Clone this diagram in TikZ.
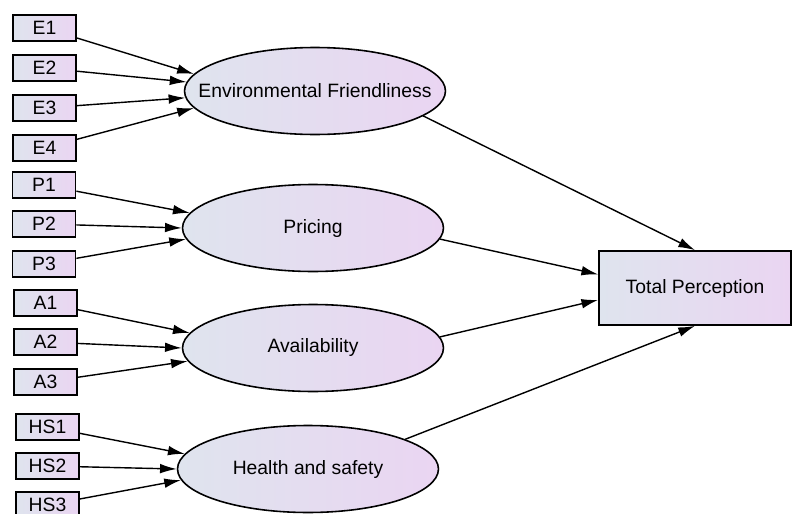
\documentclass[tikz,border=0pt]{standalone}
\usepackage{fontspec}
\setmainfont{Liberation Sans}
\usetikzlibrary{shapes.geometric,arrows.meta}

\definecolor{shadeblue}{HTML}{DFE4EE}
\definecolor{shadepink}{HTML}{EAD5F2}

\begin{document}
\begin{tikzpicture}[
  x=0.02cm, y=-0.02cm,
  font=\fontsize{11}{13}\selectfont,
  indicator/.style={rectangle, draw, line width=1pt, left color=shadeblue, right color=shadepink, minimum width=1.26cm, minimum height=0.52cm, inner sep=0pt},
  latent/.style={ellipse, draw, line width=0.9pt, left color=shadeblue, right color=shadepink, minimum width=5.22cm, minimum height=1.74cm, inner sep=0pt},
  outcome/.style={rectangle, draw, line width=1pt, left color=shadeblue, right color=shadepink, minimum width=3.84cm, minimum height=1.48cm, inner sep=0pt},
  ->, >={Latex[length=9.5pt,width=5.5pt]}, line width=0.8pt
]
\useasboundingbox (0,0) rectangle (792,514);

\node[indicator] (e1) at (44.5, 28) {E1};
\node[indicator] (e2) at (44.5, 68) {E2};
\node[indicator] (e3) at (44.5, 108) {E3};
\node[indicator] (e4) at (44.5, 148) {E4};
\node[indicator] (p1) at (44, 185) {P1};
\node[indicator] (p2) at (44, 224) {P2};
\node[indicator] (p3) at (44, 264) {P3};
\node[indicator] (a1) at (45.5, 303) {A1};
\node[indicator] (a2) at (45.5, 342) {A2};
\node[indicator] (a3) at (45.5, 382) {A3};
\node[indicator] (hs1) at (47.5, 427) {HS1};
\node[indicator] (hs2) at (47.5, 466) {HS2};
\node[indicator] (hs3) at (47.5, 505) {HS3};

\node[latent, label=center:Environmental Friendliness] (env) at (315, 91) {};
\node[latent, label=center:Pricing] (price) at (313, 228) {};
\node[latent, label=center:Availability] (avail) at (313, 348) {};
\node[latent, label=center:Health and safety] (health) at (308, 469) {};

\node[outcome] (total) at (695, 288) {Total Perception};

\draw (e1) -- (env.172);
\draw (e2) -- (env.176);
\draw (e3) -- (env.183);
\draw (e4) -- (env.188);
\draw (p1) -- (price.173);
\draw (p2) -- (price.180);
\draw (p3) -- (price.185);
\draw (a1) -- (avail.173);
\draw (a2) -- (avail.180);
\draw (a3) -- (avail.186);
\draw (hs1) -- (health.173);
\draw (hs2) -- (health.180);
\draw (hs3) -- (health.185);

\draw (env.-13) -- (total.north);
\draw (price.-5) -- (total.172);
\draw (avail.5) -- (total.187);
\draw (health.17) -- (total.south);

\end{tikzpicture}
\end{document}
